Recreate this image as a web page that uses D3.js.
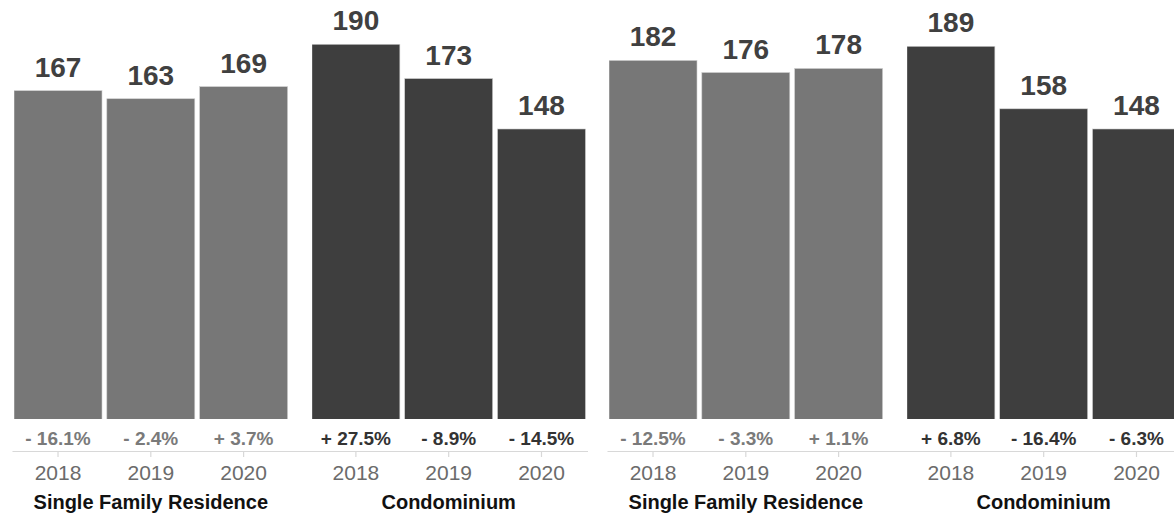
<!DOCTYPE html>
<html>
<head>
<meta charset="utf-8">
<script src="https://cdn.jsdelivr.net/npm/d3@7"></script>
<style>
  html, body { margin: 0; padding: 0; background: #fff; overflow: hidden; }
  svg { display: block; font-family: "Liberation Sans", Arial, Helvetica, sans-serif; }
</style>
</head>
<body>
<svg id="chart" width="1174" height="517"></svg>
<script>
// ---- data ----
const years = ["2018", "2019", "2020"];
const groups = ["Single Family Residence", "Condominium"];

const panel1SFR = [167, 163, 169];
const panel1Condo = [190, 173, 148];
const panel1SFRChange = [-16.1, -2.4, 3.7];
const panel1CondoChange = [27.5, -8.9, -14.5];

const panel2SFR = [182, 176, 178];
const panel2Condo = [189, 158, 148];
const panel2SFRChange = [-12.5, -3.3, 1.1];
const panel2CondoChange = [6.8, -16.4, -6.3];

const panels = [
  { offset: 0, values: [panel1SFR, panel1Condo], changes: [panel1SFRChange, panel1CondoChange] },
  { offset: 595, values: [panel2SFR, panel2Condo], changes: [panel2SFRChange, panel2CondoChange] }
];

// ---- layout ----
const svg = d3.select("#chart");
const barColors = ["#777777", "#3e3e3e"];
const changeColors = ["#7a7a7a", "#333333"];
const plotBottom = 419;

const y = d3.scaleLinear().domain([0, 200]).range([427.5, 24.1]);

svg.append("defs").append("clipPath").attr("id", "plotclip")
  .append("rect").attr("x", 0).attr("y", 0).attr("width", 1174).attr("height", plotBottom);

const fmtChange = v => (v < 0 ? "- " : "+ ") + Math.abs(v).toFixed(1) + "%";

panels.forEach(p => {
  const x0 = d3.scaleBand().domain(groups)
    .range([12 + p.offset, 587.5 + p.offset])
    .paddingInner(0.0816).paddingOuter(0.0068);
  const x1 = d3.scaleBand().domain(years)
    .range([0, x0.bandwidth()])
    .paddingInner(0.052).paddingOuter(0);

  const g = svg.append("g");

  // axis baseline
  const axisG = g.append("g").attr("transform", `translate(0,451)`)
    .call(d3.axisBottom(x0).tickSize(0).tickSizeOuter(0).tickFormat(""));
  axisG.select(".domain").attr("stroke", "#d8d8d8").attr("stroke-width", 1.2);

  groups.forEach((grp, gi) => {
    const gg = g.append("g").attr("transform", `translate(${x0(grp)},0)`);
    const data = years.map((yr, i) => ({ yr, v: p.values[gi][i], c: p.changes[gi][i] }));

    gg.append("g").attr("clip-path", "url(#plotclip)")
      .selectAll("rect").data(data).join("rect")
      .attr("x", d => x1(d.yr))
      .attr("width", x1.bandwidth())
      .attr("y", d => y(d.v))
      .attr("height", d => y(0) - y(d.v))
      .attr("fill", barColors[gi])
      .attr("stroke", "#d0d0d0").attr("stroke-width", 0.6);

    gg.selectAll("text.val").data(data).join("text")
      .attr("class", "val")
      .attr("x", d => x1(d.yr) + x1.bandwidth() / 2)
      .attr("y", d => y(d.v) - 14)
      .attr("text-anchor", "middle")
      .attr("font-size", 28).attr("font-weight", "bold")
      .attr("fill", "#404040")
      .text(d => d.v);

    gg.selectAll("text.chg").data(data).join("text")
      .attr("class", "chg")
      .attr("x", d => x1(d.yr) + x1.bandwidth() / 2)
      .attr("y", 444.5)
      .attr("text-anchor", "middle")
      .attr("font-size", 19).attr("font-weight", "bold")
      .attr("fill", changeColors[gi])
      .text(d => fmtChange(d.c));

    // year axis
    const ya = gg.append("g").attr("transform", "translate(0,451)")
      .call(d3.axisBottom(x1).tickSize(6).tickPadding(8));
    ya.select(".domain").remove();
    ya.selectAll(".tick line").attr("stroke", "#d8d8d8").attr("stroke-width", 1.2);
    ya.selectAll(".tick text")
      .attr("font-size", 21).attr("fill", "#6b6b6b")
      .attr("font-family", "\"Liberation Sans\", Arial, Helvetica, sans-serif");

    gg.append("text")
      .attr("x", x0.bandwidth() / 2)
      .attr("y", 509)
      .attr("text-anchor", "middle")
      .attr("font-size", 20).attr("font-weight", "bold")
      .attr("fill", "#111")
      .text(grp);
  });
});
</script>
</body>
</html>
